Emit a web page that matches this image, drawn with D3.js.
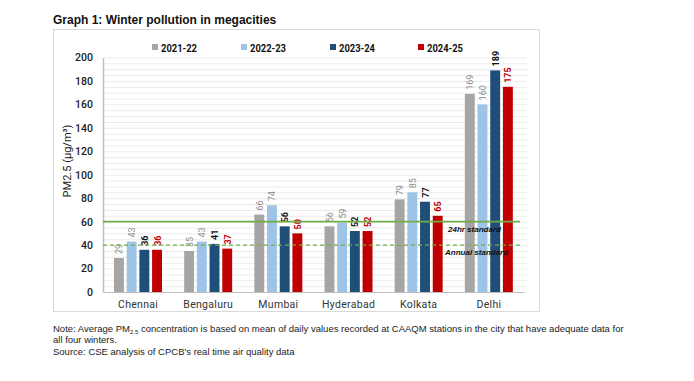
<!DOCTYPE html>
<html><head><meta charset="utf-8">
<script src="https://cdn.jsdelivr.net/npm/d3@7"></script>
<style>body{margin:0;background:#fff}svg{display:block}</style>
</head><body>
<svg id="c" width="694" height="381"></svg>
<script>
const cities = ["Chennai","Bengaluru","Mumbai","Hyderabad","Kolkata","Delhi"];
const seriesNames = ["2021-22","2022-23","2023-24","2024-25"];
const s2122 = [29,35,66,56,79,169];
const s2223 = [43,43,74,59,85,160];
const s2324 = [36,41,56,52,77,189];
const s2425 = [36,37,50,52,65,175];
const yTicks = [0,20,40,60,80,100,120,140,160,180,200];
const standards = [{name:"24hr standard", value:60, dash:null},{name:"Annual standard", value:40, dash:"4,3"}];

(function(){
const colors = ["#a5a5a5","#9dc3e6","#1f4e79","#c00000"];
const labelColors = ["#8c8c8c","#8c8c8c","#111","#c00000"];
const labelWeights = ["normal","normal","bold","bold"];
const allSeries = [s2122,s2223,s2324,s2425];

const svg = d3.select("#c");
const font = "'Liberation Sans', Arial, sans-serif";
const dfont = "Roboto, 'DejaVu Sans', sans-serif";

svg.append("rect").attr("x",53.5).attr("y",29.5).attr("width",486).attr("height",282)
  .attr("fill","none").attr("stroke","#d9d9d9");

svg.append("text").attr("x",53).attr("y",24).attr("font-family",font).attr("font-weight","bold")
  .attr("font-size",12).attr("fill","#111").text("Graph 1: Winter pollution in megacities");

const pl=103, pr=524, pt=57.5, pb=292;
const x = d3.scaleBand().domain(cities).range([pl,pr]).paddingInner(0).paddingOuter(0);
const y = d3.scaleLinear().domain([0,200]).range([pb,pt]);
const xs = d3.scaleBand().domain(seriesNames).range([11,59]).paddingInner(0.22);

svg.append("g").selectAll("line").data(d3.range(5,201,5)).join("line")
  .attr("x1",pl).attr("x2",pr+3).attr("y1",d=>y(d)+0.5).attr("y2",d=>y(d)+0.5)
  .attr("stroke","#ebebeb").attr("stroke-width",1);

const ya = svg.append("g").attr("transform",`translate(${pl},0)`)
  .call(d3.axisLeft(y).tickValues(yTicks).tickSize(0).tickPadding(10));
ya.select(".domain").attr("stroke","#bfbfbf").attr("stroke-width",1.5);
ya.selectAll("text").attr("font-family",dfont).attr("font-size",10.5).attr("fill","#222").attr("font-weight",500);

const xa = svg.append("g").attr("transform",`translate(0,${pb})`)
  .call(d3.axisBottom(x).tickSize(0).tickPadding(9));
xa.select(".domain").attr("stroke","#bfbfbf").attr("stroke-width",1);
xa.selectAll("text").attr("font-family",dfont).attr("font-size",10.5).attr("fill","#333").attr("letter-spacing","0.3px");

svg.append("text").attr("transform",`translate(71,161) rotate(-90)`).attr("text-anchor","middle")
  .attr("font-family",dfont).attr("font-size",11).attr("fill","#222").text("PM2.5 (µg/m³)");

const bars = svg.append("g");
seriesNames.forEach((s,i)=>{
  const data = allSeries[i];
  bars.selectAll(null).data(cities).join("rect")
    .attr("x",c=>x(c)+xs(s)).attr("width",xs.bandwidth())
    .attr("y",(c,j)=>y(data[j])).attr("height",(c,j)=>pb-y(data[j]))
    .attr("fill",colors[i]);
  bars.selectAll(null).data(cities).join("text")
    .attr("transform",(c,j)=>`translate(${x(c)+xs(s)+xs.bandwidth()/2+3.5},${y(data[j])-4}) rotate(-90)`)
    .attr("font-family",dfont).attr("font-size",9).attr("font-weight",labelWeights[i])
    .attr("fill",labelColors[i]).text((c,j)=>data[j]);
});

standards.forEach(st=>{
  svg.append("line").attr("x1",pl).attr("x2",pr-4).attr("y1",y(st.value)).attr("y2",y(st.value))
    .attr("stroke","#70ad47").attr("stroke-width",st.dash?1.3:1.6).attr("stroke-dasharray",st.dash);
});
svg.append("text").attr("x",448).attr("y",y(60)+10).attr("font-family",font).attr("font-style","italic")
  .attr("font-weight","bold").attr("font-size",8).attr("fill","#111").text(standards[0].name);
svg.append("text").attr("x",445).attr("y",y(40)+10).attr("font-family",font).attr("font-style","italic")
  .attr("font-weight","bold").attr("font-size",8).attr("fill","#111").text(standards[1].name);

const legX = [152,241,330,418];
seriesNames.forEach((s,i)=>{
  svg.append("rect").attr("x",legX[i]).attr("y",44).attr("width",6).attr("height",6).attr("fill",colors[i]);
  svg.append("text").attr("x",legX[i]+9).attr("y",51.5).attr("font-family",dfont).attr("font-weight","bold")
    .attr("font-size",11).attr("fill","#111").attr("textLength",36).attr("lengthAdjust","spacingAndGlyphs").text(s);
});

const nt = svg.append("text").attr("x",53).attr("y",332).attr("font-family",font).attr("font-size",9.5).attr("fill","#222");
nt.append("tspan").text("Note: Average PM");
nt.append("tspan").attr("font-size",6).attr("dy",2).text("2.5");
nt.append("tspan").attr("dy",-2).text(" concentration is based on mean of daily values recorded at CAAQM stations in the city that have adequate data for");
svg.append("text").attr("x",53).attr("y",343).attr("font-family",font).attr("font-size",9.5).attr("fill","#222").text("all four winters.");
svg.append("text").attr("x",53).attr("y",355).attr("font-family",font).attr("font-size",9.5).attr("fill","#222").text("Source: CSE analysis of CPCB's real time air quality data");
})();
</script>
</body></html>
